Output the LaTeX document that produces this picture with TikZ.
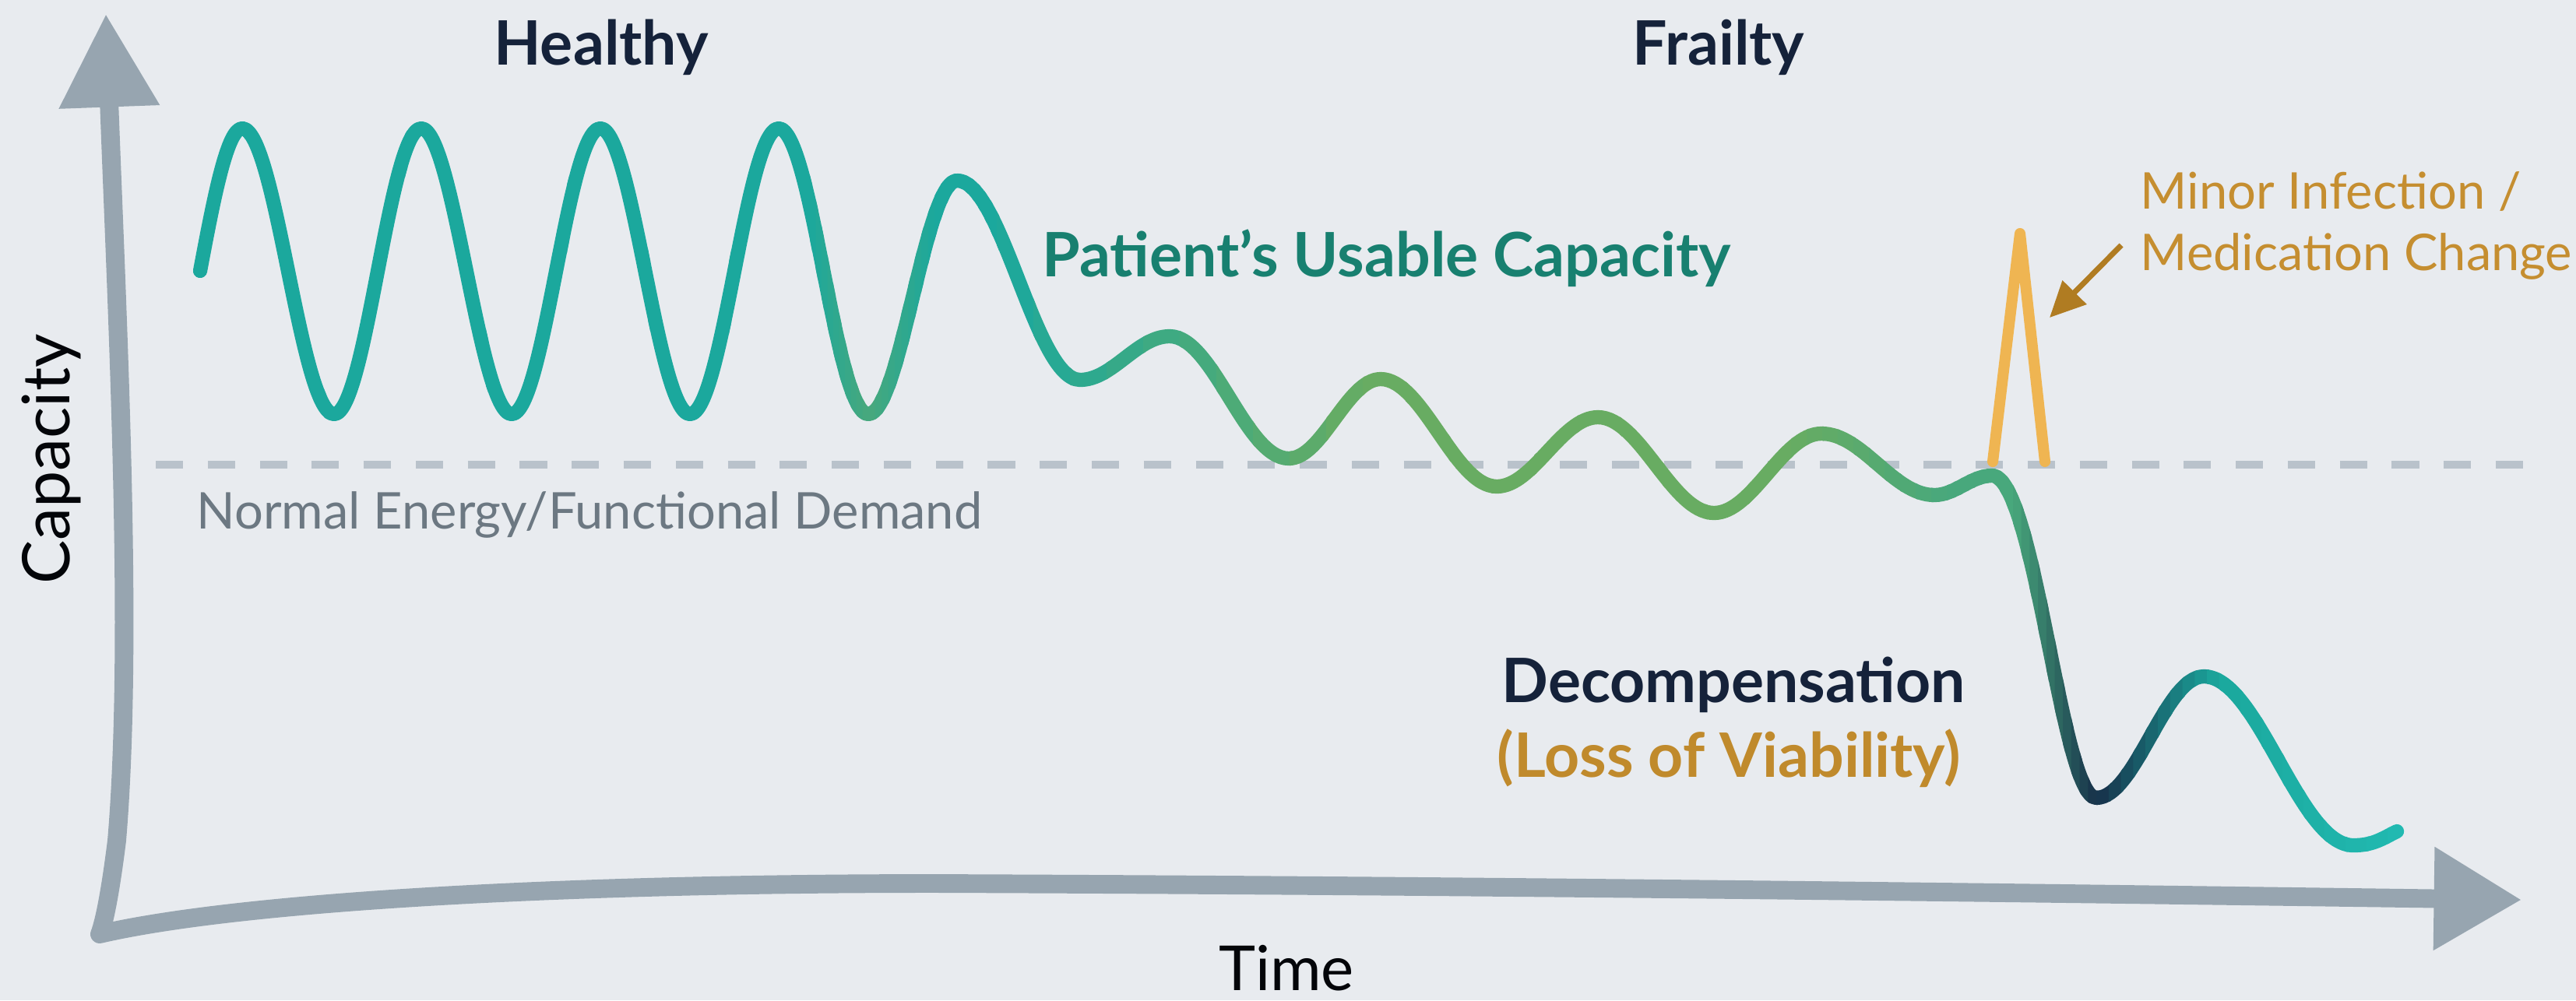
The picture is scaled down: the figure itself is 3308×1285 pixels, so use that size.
\documentclass[tikz,border=0pt]{standalone}
\usepackage{fontspec}
\setmainfont{Lato}
\usepackage{tikz}
\usetikzlibrary{arrows.meta}
\definecolor{paper}{RGB}{232,235,239}
\definecolor{axisgray}{RGB}{151,165,176}
\definecolor{demandgray}{RGB}{185,194,203}
\definecolor{labelgray}{RGB}{108,120,130}
\definecolor{ink}{RGB}{21,34,58}
\definecolor{pucteal}{RGB}{24,128,112}
\definecolor{ochre}{RGB}{192,138,44}
\definecolor{spikeorange}{RGB}{239,181,82}
\definecolor{cuebrown}{RGB}{176,124,34}
\definecolor{wteal}{RGB}{27,168,157}
\definecolor{wsea}{RGB}{72,168,124}
\definecolor{wgreen}{RGB}{104,172,98}
\definecolor{wnavy}{RGB}{23,48,74}
\definecolor{wcyan}{RGB}{34,188,180}

\begin{document}
\begin{tikzpicture}[x=0.1mm,y=-0.1mm,
	axisline/.style={draw=axisgray,line width=6.8pt,line join=round,arrows={Triangle[length=34pt,width=35pt]-Triangle[length=32pt,width=36pt]}},
	demand/.style={draw=demandgray,line width=2.8pt,dash pattern=on 10pt off 9pt},
	wavestroke/.style={line width=5.2pt,line cap=round,line join=round},
	spike/.style={draw=spikeorange,line width=4pt,line join=round,line cap=round},
	cuearrow/.style={draw=cuebrown,line width=2pt,-{Triangle[length=13pt,width=12pt]}},
	heading/.style={inner sep=0pt,text=ink,font=\bfseries\fontsize{22.4pt}{27pt}\selectfont},
	axislabel/.style={inner sep=0pt,text=black!85!ink,font=\fontsize{22.7pt}{27pt}\selectfont}]
		\fill[paper] (0,0) rectangle (3308,1285);
		\useasboundingbox (0,0) rectangle (3308,1285);
		\coordinate (YT) at (136,18);
		\coordinate (O) at (128,1200);
		\coordinate (XT) at (3238,1156);
		\coordinate (D0) at (200,597);
		\coordinate (D1) at (3240,597);
		\coordinate (Z1) at (2559,593);
		\coordinate (Z2) at (2594,300);
		\coordinate (Z3) at (2626,593);
		\coordinate (cue) at (2724,315);
		\coordinate (hit) at (2632,408);
		\coordinate (A) at (257,348);
		\coordinate (B) at (311,165);
		\coordinate (C) at (429,532);
		\coordinate (D) at (541,165);
		\coordinate (E) at (657,532);
		\coordinate (F) at (771,165);
		\coordinate (G) at (886,532);
		\coordinate (H) at (1000,165);
		\coordinate (I) at (1115,532);
		\coordinate (J) at (1229,232);
		\coordinate (K) at (1387,488);
		\coordinate (L) at (1502,432);
		\coordinate (M) at (1655,589);
		\coordinate (N) at (1773,487);
		\coordinate (O') at (1922,625);
		\coordinate (P) at (2052,536);
		\coordinate (Q) at (2201,659);
		\coordinate (R) at (2339,557);
		\coordinate (S) at (2484,636);
		\coordinate (T) at (2558,611);
		\coordinate (U) at (2692,1025);
		\coordinate (V) at (2830,869);
		\coordinate (W) at (3022,1086);
		\coordinate (X) at (3078,1068);
		\def\wave{(A) .. controls +(18,-96) and +(-19,0) .. (B)
			.. controls +(43,0) and +(-43,0) .. (C)
			.. controls +(41,0) and +(-41,0) .. (D)
			.. controls +(41,0) and +(-41,0) .. (E)
			.. controls +(42,0) and +(-42,0) .. (F)
			.. controls +(41,0) and +(-41,0) .. (G)
			.. controls +(42,0) and +(-42,0) .. (H)
			.. controls +(42,0) and +(-42,0) .. (I)
			.. controls +(41,0) and +(-41,0) .. (J)
			.. controls +(58,0) and +(-58,0) .. (K)
			.. controls +(42,0) and +(-42,0) .. (L)
			.. controls +(56,0) and +(-56,0) .. (M)
			.. controls +(43,0) and +(-43,0) .. (N)
			.. controls +(54,0) and +(-54,0) .. (O')
			.. controls +(47,0) and +(-47,0) .. (P)
			.. controls +(54,0) and +(-54,0) .. (Q)
			.. controls +(50,0) and +(-50,0) .. (R)
			.. controls +(53,0) and +(-53,0) .. (S)
			.. controls +(27,0) and +(-27,0) .. (T)
			.. controls +(55,0) and +(-45,0) .. (U)
			.. controls +(50,0) and +(-50,0) .. (V)
			.. controls +(70,0) and +(-70,0) .. (W)
			.. controls +(25,0) and +(-20,10) .. (X)}
		\draw[demand] (D0) -- (D1);
		\draw[axisline] (YT) .. controls (150,400) and (172,820) .. (150,1080) .. controls (140,1160) and (132,1190) .. (O) .. controls (300,1160) and (700,1135) .. (1200,1135) .. controls (2000,1138) and (2800,1150) .. (XT);
		\draw[spike] (Z1) -- (Z2) -- (Z3);
		\foreach \xa/\xb/\ca/\cb in {0/1040/wteal/wteal,1040/1115/wteal/wsea,1115/1200/wsea/wteal,1200/1280/wteal/wteal,1280/1750/wteal/wgreen,1750/2300/wgreen/wgreen,2300/2500/wgreen/wsea,2500/2585/wsea/wsea,2585/2692/wsea/wnavy,2692/2850/wnavy/wteal,2850/3120/wteal/wcyan}
		\foreach \i in {0,...,9}{
			\pgfmathsetmacro\xl{\xa+(\xb-\xa)*\i/10}
			\pgfmathsetmacro\xr{\xa+(\xb-\xa)*(\i+1)/10+3}
			\pgfmathtruncatemacro\p{\i*10+5}
			\begin{scope}
				\clip (\xl,0) rectangle (\xr,1285);
				\draw[wavestroke,draw=\cb!\p!\ca] \wave;
			\end{scope}
		}
		\draw[cuearrow] (cue) -- (hit);
		\node[heading,anchor=base] (healthy) at (772,83) {Healthy};
		\node[heading,anchor=base] (frailty) at (2207,83) {Frailty};
		\node[axislabel,anchor=base] (time) at (1652,1272) {Time};
		\node[axislabel,font=\fontsize{24pt}{28pt}\selectfont,rotate=90,anchor=base] (capacity) at (90,590) {Capacity};
		\node[heading,text=pucteal,anchor=base west] (usable) at (1338,355) {Patient's Usable Capacity};
		\node[inner sep=0pt,text=labelgray,font=\fontsize{18.5pt}{22pt}\selectfont,anchor=base west] (demandlabel) at (252,679) {Normal Energy/Functional Demand};
		\node[heading,anchor=base west] (decomp) at (1928,902) {Decompensation};
		\node[heading,text=ochre,anchor=base west] (loss) at (1922,998) {(Loss of Viability)};
		\node[inner sep=0pt,text=ochre!90!spikeorange,font=\fontsize{18.5pt}{22pt}\selectfont,anchor=base west] (infect) at (2748,268) {Minor Infection /};
		\node[inner sep=0pt,text=ochre!90!spikeorange,font=\fontsize{18.5pt}{22pt}\selectfont,anchor=base west] (medchange) at (2748,347) {Medication Change};
\end{tikzpicture}
\end{document}
